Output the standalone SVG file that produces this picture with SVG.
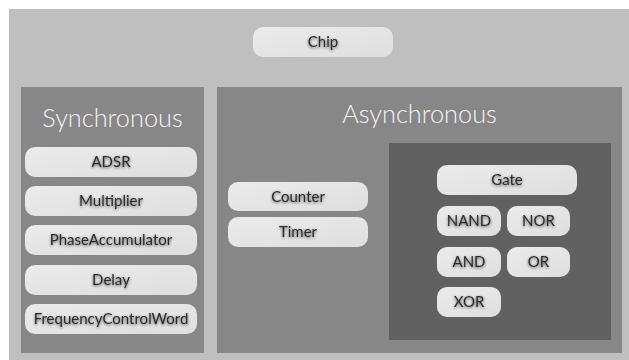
<svg xmlns="http://www.w3.org/2000/svg" width="629" height="360" viewBox="0 0 629 360">
  <style>
    .bg { fill: #ffffff; }
    .chip { fill: #bfbfbf; }
    .panel { fill: #878787; }
    .inner { fill: #616161; }
    .node rect { fill: url(#nodeFill); }
    .node text { font-family: Lato, "Open Sans", sans-serif; font-size: 15px; fill: #2b2b2b; text-anchor: middle; filter: url(#glow); }
    .title { font-family: Lato, "Open Sans", sans-serif; font-weight: 300; font-size: 25.3px; fill: #f4f4f4; text-anchor: middle; }
  </style>
  <defs>
    <linearGradient id="nodeFill" x1="0" y1="0" x2="1" y2="1">
      <stop offset="0" stop-color="#ebebeb"/>
      <stop offset="0.5" stop-color="#e5e5e5"/>
      <stop offset="1" stop-color="#dedede"/>
    </linearGradient>
    <!-- soft dark halo behind node labels -->
    <filter id="glow" x="-20%" y="-40%" width="140%" height="180%">
      <feGaussianBlur in="SourceAlpha" stdDeviation="1.4" result="b"/>
      <feOffset in="b" dy="1" result="o"/>
      <feComponentTransfer in="o" result="s">
        <feFuncA type="linear" slope="0.65"/>
      </feComponentTransfer>
      <feMerge>
        <feMergeNode in="s"/>
        <feMergeNode in="SourceGraphic"/>
      </feMerge>
    </filter>
  </defs>

  <rect class="bg" x="0" y="0" width="629" height="360"/>

  <!-- containers -->
  <g id="container-chip">
    <rect class="chip" x="9" y="9" width="620" height="351"/>
  </g>
  <g id="container-synchronous">
    <rect class="panel" x="21" y="87" width="183" height="266"/>
    <text class="title" x="112.5" y="127">Synchronous</text>
  </g>
  <g id="container-asynchronous">
    <rect class="panel" x="217" y="87" width="405" height="266"/>
    <text class="title" x="419.5" y="123">Asynchronous</text>
  </g>
  <g id="container-gate">
    <rect class="inner" x="389" y="143" width="222" height="197"/>
  </g>

  <!-- nodes -->
  <g id="node-chip" class="node">
    <rect x="253" y="27" width="140" height="30" rx="10"/>
    <text x="323" y="47">Chip</text>
  </g>

  <g id="node-adsr" class="node">
    <rect x="25" y="147" width="172" height="30" rx="10"/>
    <text x="111" y="167">ADSR</text>
  </g>
  <g id="node-multiplier" class="node">
    <rect x="25" y="186" width="172" height="30" rx="10"/>
    <text x="111" y="206">Multiplier</text>
  </g>
  <g id="node-phaseaccumulator" class="node">
    <rect x="25" y="225" width="172" height="30" rx="10"/>
    <text x="111" y="245">PhaseAccumulator</text>
  </g>
  <g id="node-delay" class="node">
    <rect x="25" y="265" width="172" height="30" rx="10"/>
    <text x="111" y="285">Delay</text>
  </g>
  <g id="node-frequencycontrolword" class="node">
    <rect x="25" y="304" width="172" height="30" rx="10"/>
    <text x="111" y="324">FrequencyControlWord</text>
  </g>

  <g id="node-counter" class="node">
    <rect x="228" y="182" width="140" height="29" rx="10"/>
    <text x="298" y="202">Counter</text>
  </g>
  <g id="node-timer" class="node">
    <rect x="228" y="217" width="140" height="30" rx="10"/>
    <text x="298" y="237">Timer</text>
  </g>

  <g id="node-gate" class="node">
    <rect x="437" y="165" width="140" height="30" rx="10"/>
    <text x="507" y="185">Gate</text>
  </g>
  <g id="node-nand" class="node">
    <rect x="437" y="206" width="64" height="30" rx="10"/>
    <text x="469" y="226">NAND</text>
  </g>
  <g id="node-nor" class="node">
    <rect x="507" y="206" width="63" height="30" rx="10"/>
    <text x="538.5" y="226">NOR</text>
  </g>
  <g id="node-and" class="node">
    <rect x="437" y="247" width="64" height="30" rx="10"/>
    <text x="469" y="267">AND</text>
  </g>
  <g id="node-or" class="node">
    <rect x="507" y="247" width="63" height="30" rx="10"/>
    <text x="538.5" y="267">OR</text>
  </g>
  <g id="node-xor" class="node">
    <rect x="437" y="287" width="64" height="30" rx="10"/>
    <text x="469" y="307">XOR</text>
  </g>

  <g id="connectors"/>
</svg>
